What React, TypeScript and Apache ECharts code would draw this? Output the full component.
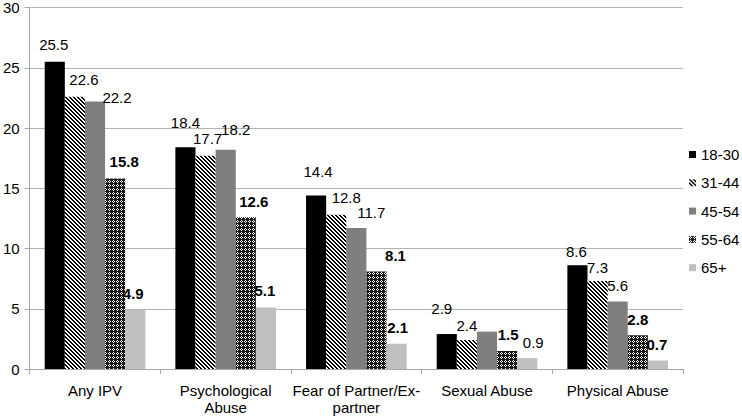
import React, { useEffect, useRef } from "react";
import * as echarts from "echarts";

const categories = [
  "Any IPV",
  "Psychological\nAbuse",
  "Fear of Partner/Ex-\npartner",
  "Sexual Abuse",
  "Physical Abuse",
];
const seriesNames = ["18-30", "31-44", "45-54", "55-64", "65+"];
const v18_30 = [25.5, 18.4, 14.4, 2.9, 8.6];
const v31_44 = [22.6, 17.7, 12.8, 2.4, 7.3];
const v45_54 = [22.2, 18.2, 11.7, 3.1, 5.6];
const v55_64 = [15.8, 12.6, 8.1, 1.5, 2.8];
const v65plus = [4.9, 5.1, 2.1, 0.9, 0.7];
const yTicks = [0, 5, 10, 15, 20, 25, 30];

// label layout tweaks (dx, dy of label centre vs bar centre/top); null = no label
const labelOffsets: (number[] | null)[][] = [
  [[-1, -17], [0, -25], [2, -24], [-5, -26], [-1, -14]],
  [[9, -17], [2, -17], [10, -17], [0, -15], [0, -14]],
  [[22, -4], [10, -20], [15, -16], null, [0, -16]],
  [[9, -17], [8, -16], [19, -16], [1, -16], [0, -16]],
  [[-2, -16], [-1, -17], [1, -16], [6, -16], [-1, -16]],
];
const labelBold: boolean[][] = [
  [false, false, false, false, false],
  [false, false, false, false, false],
  [false, false, false, false, false],
  [true, true, true, true, true],
  [true, true, true, false, true],
];

function makePattern(kind: "hatch" | "check"): HTMLCanvasElement {
  const c = document.createElement("canvas");
  c.width = 4;
  c.height = 4;
  const ctx = c.getContext("2d")!;
  if (kind === "hatch") {
    ctx.fillStyle = "#ffffff";
    ctx.fillRect(0, 0, 4, 4);
    ctx.fillStyle = "#000000";
    for (let i = 0; i < 4; i++) {
      ctx.fillRect(i, i, 1, 1);
      ctx.fillRect((i + 1) % 4, i, 1, 1);
    }
  } else {
    ctx.fillStyle = "#1a1a1a";
    ctx.fillRect(0, 0, 4, 4);
    ctx.fillStyle = "#ffffff";
    ctx.fillRect(1, 0, 1, 1);
    ctx.fillRect(0, 1, 1, 1);
    ctx.fillRect(2, 1, 1, 1);
    ctx.fillRect(1, 2, 1, 1);
  }
  return c;
}

const FONT = '"Liberation Sans", Arial, sans-serif';

export default function App() {
  const ref = useRef<HTMLDivElement>(null);
  useEffect(() => {
    document.body.style.margin = "0";
    const chart = echarts.init(ref.current!, undefined, { renderer: "svg" });
    const values = [v18_30, v31_44, v45_54, v55_64, v65plus];
    const colors: any[] = [
      "#000000",
      { image: makePattern("hatch"), repeat: "repeat" },
      "#7f7f7f",
      { image: makePattern("check"), repeat: "repeat" },
      "#bfbfbf",
    ];
    const series = values.map((vals, si) => ({
      name: seriesNames[si],
      type: "bar",
      barGap: "0%",
      barCategoryGap: "23%",
      itemStyle: { color: colors[si] },
      data: vals.map((v, ci) => {
        const off = labelOffsets[si][ci];
        return {
          value: v,
          label: off
            ? {
                show: true,
                position: "top",
                distance: 0,
                offset: [off[0], off[1] + 7.5],
                fontWeight: labelBold[si][ci] ? "bold" : "normal",
              }
            : { show: false },
        };
      }),
      label: {
        show: true,
        color: "#000",
        fontSize: 15,
        fontFamily: FONT,
        formatter: (p: any) => p.value.toFixed(1),
      },
    }));
    chart.setOption({
      animation: false,
      textStyle: { fontFamily: FONT },
      grid: { left: 29, right: 59, top: 7, bottom: 43, containLabel: false },
      legend: {
        orient: "vertical",
        left: 689,
        top: 147,
        padding: 0,
        itemWidth: 7,
        itemHeight: 7,
        itemGap: 13.3,
        icon: "rect",
        textStyle: { fontSize: 15, color: "#000", fontFamily: FONT },
        data: seriesNames,
      },
      xAxis: {
        type: "category",
        data: categories,
        axisLine: { lineStyle: { color: "#a6a6a6" } },
        axisTick: { show: true, length: 5, lineStyle: { color: "#a6a6a6" } },
        axisLabel: { fontSize: 15, color: "#000", lineHeight: 17, margin: 13, fontFamily: FONT, interval: 0 },
      },
      yAxis: {
        type: "value",
        min: yTicks[0],
        max: yTicks[yTicks.length - 1],
        interval: 5,
        axisLine: { show: true, lineStyle: { color: "#a6a6a6" } },
        axisTick: { show: true, length: 5, lineStyle: { color: "#a6a6a6" } },
        splitLine: { lineStyle: { color: "#b3b3b3" } },
        axisLabel: { fontSize: 15, color: "#000", margin: 10, fontFamily: FONT },
      },
      series,
    });
    return () => chart.dispose();
  }, []);
  return <div ref={ref} style={{ width: 742, height: 416 }} />;
}
